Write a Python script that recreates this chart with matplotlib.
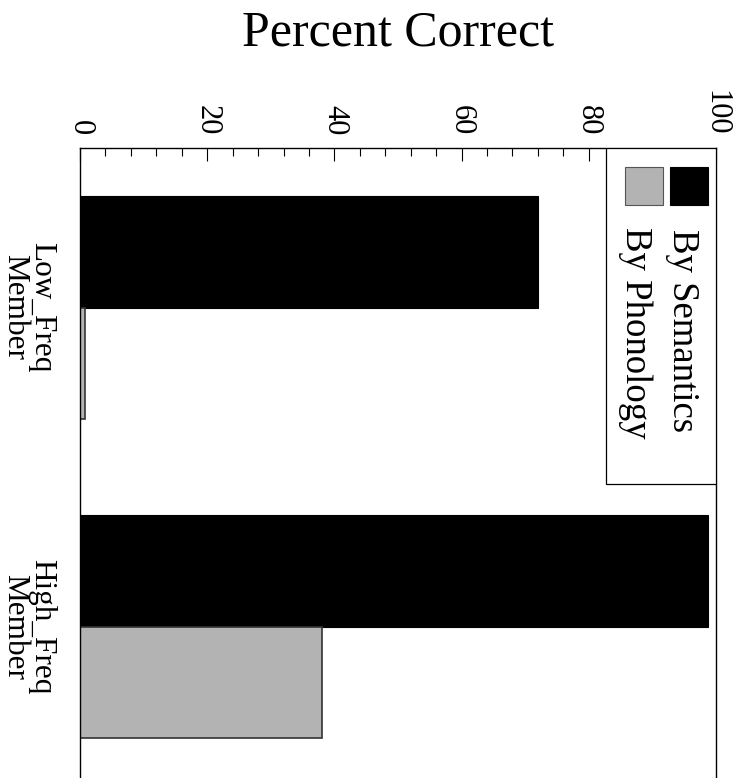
import numpy as np
import matplotlib
matplotlib.use("Agg")
import matplotlib.pyplot as plt
from matplotlib.patches import Rectangle

plt.rcParams['font.family'] = ['Liberation Serif', 'DejaVu Serif']

categories = ["Low_Freq\nMember", "High_Freq\nMember"]
semantics = [72.0, 98.7]
phonology = [0.8, 38.1]
series_names = ["By Semantics", "By Phonology"]

fig = plt.figure(figsize=(7.33, 7.78), dpi=100)
# axes run off the bottom edge a little, the way the rotated page was cut
ax = fig.add_axes([80 / 733, -8 / 778, 636 / 733, 638 / 778])

pos = np.arange(1, len(categories) + 1)
h = 0.35
ax.barh(pos - h / 2, semantics, height=h, color='black', edgecolor='black', lw=0.8)
ax.barh(pos + h / 2, phonology, height=h, color='#b3b3b3', edgecolor='#333333', lw=1.2)

ax.set_xlim(0, 100)
ax.set_ylim(2.5, 0.5)

# value axis on top, labels turned with the page
ax.xaxis.set_ticks_position('top')
ax.set_xticks([0, 20, 40, 60, 80, 100])
ax.set_xticks(np.arange(0, 101, 4), minor=True)
ax.set_xticklabels(["0", "20", "40", "60", "80", "100"], rotation=-90,
                   fontsize=22, va='bottom', ha='center')
ax.tick_params(axis='x', which='major', direction='in', length=9, width=0.8, pad=9)
ax.tick_params(axis='x', which='minor', direction='in', length=5.5, width=0.8)

ax.set_yticks(pos)
ax.set_yticklabels(categories, rotation=-90, fontsize=22.5, va='center',
                   ha='right', multialignment='center', linespacing=0.92)
ax.tick_params(axis='y', length=0, pad=17)

for s in ['top', 'left', 'right']:
    ax.spines[s].set_linewidth(1.0)
ax.spines['bottom'].set_visible(False)

# legend box drawn by hand so its text can be rotated
def px(x, y):
    return ((x - 80.5) / 635.2, 1 - (y - 148) / 638)

x0, y0 = px(606, 484)
x1, y1 = px(716, 148)
ax.add_patch(Rectangle((x0, y0), x1 - x0, y1 - y0, transform=ax.transAxes,
                       facecolor='white', edgecolor='black', lw=0.9, zorder=5))
bx, by = px(670, 205)
bx2, by2 = px(708, 167)
ax.add_patch(Rectangle((bx, by), bx2 - bx, by2 - by, transform=ax.transAxes,
                       facecolor='black', edgecolor='black', lw=0.8, zorder=6))
gx, gy = px(625, 205)
gx2, gy2 = px(663, 167)
ax.add_patch(Rectangle((gx, gy), gx2 - gx, gy2 - gy, transform=ax.transAxes,
                       facecolor='#b3b3b3', edgecolor='#555555', lw=0.8, zorder=6))
tx, ty = px(682, 229)
ax.text(tx, ty, series_names[0], transform=ax.transAxes, rotation=-90,
        ha='center', va='top', fontsize=26.5, zorder=7)
tx, ty = px(635, 227)
ax.text(tx, ty, series_names[1], transform=ax.transAxes, rotation=-90,
        ha='center', va='top', fontsize=26.5, zorder=7)

fig.text(398 / 733, 1 - 33 / 778, "Percent Correct", ha='center', va='center',
         fontsize=36)

fig.savefig("out.png", dpi=100)
